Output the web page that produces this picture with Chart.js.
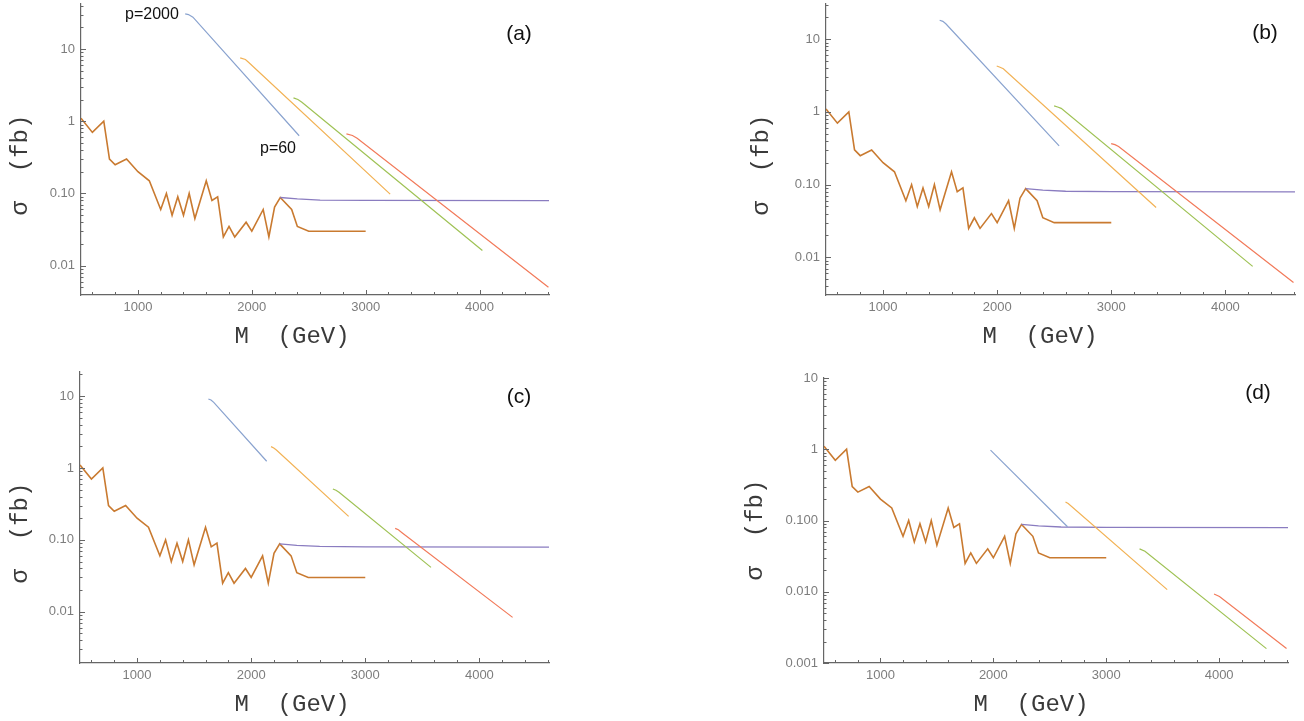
<!DOCTYPE html>
<html>
<head>
<meta charset="utf-8">
<script src="https://cdn.jsdelivr.net/npm/chart.js@4.4.1/dist/chart.umd.min.js"></script>
<style>
  body { margin: 0; background: #fff; width: 1304px; height: 721px; position: relative; overflow: hidden;
         font-family: "Liberation Sans", Arial, sans-serif; }
  canvas { position: absolute; }
  .lbl { position: absolute; white-space: pre; transform: translate(-50%, -50%); line-height: 1; }
  .axt { font-family: "Liberation Mono", "Courier New", monospace; font-size: 24px; color: #3a3a3a; }
  .ytl { transform: translate(-50%, -50%) rotate(-90deg); }
  .tag { font-size: 21px; color: #111; }
  .pl  { font-size: 16px; color: #111; }
</style>
</head>
<body>
<canvas id="pa"></canvas>
<canvas id="pb"></canvas>
<canvas id="pc"></canvas>
<canvas id="pd"></canvas>

<div class="lbl axt" style="left:292px;top:337px">M  (GeV)</div>
<div class="lbl axt" style="left:1040px;top:337px">M  (GeV)</div>
<div class="lbl axt" style="left:292px;top:705px">M  (GeV)</div>
<div class="lbl axt" style="left:1031px;top:705px">M  (GeV)</div>
<div class="lbl axt ytl" style="left:21px;top:165px">σ  (fb)</div>
<div class="lbl axt ytl" style="left:762px;top:165px">σ  (fb)</div>
<div class="lbl axt ytl" style="left:21px;top:533px">σ  (fb)</div>
<div class="lbl axt ytl" style="left:756px;top:530px">σ  (fb)</div>
<div class="lbl tag" style="left:519px;top:32px">(a)</div>
<div class="lbl tag" style="left:1265px;top:31px">(b)</div>
<div class="lbl tag" style="left:519px;top:395px">(c)</div>
<div class="lbl tag" style="left:1258px;top:391px">(d)</div>
<div class="lbl pl" style="left:152px;top:14px">p=2000</div>
<div class="lbl pl" style="left:278px;top:148px">p=60</div>

<script>
// observed limit (orange zigzag), same in all four panels
const massPoints = [500, 600, 700, 750, 800, 900, 1000, 1100, 1200, 1250, 1300, 1350, 1400, 1450, 1500,
                    1600, 1650, 1700, 1750, 1800, 1850, 1950, 2000, 2100, 2150, 2200, 2250, 2350, 2400, 2500, 3000];
const limitFb    = [1.1, 0.7, 1.0, 0.3, 0.25, 0.3, 0.2, 0.15, 0.06, 0.1, 0.05, 0.09, 0.05, 0.1, 0.045,
                    0.15, 0.08, 0.09, 0.025, 0.035, 0.025, 0.04, 0.03, 0.06, 0.025, 0.065, 0.088, 0.06, 0.035, 0.03, 0.03];

// second limit (purple, flat)
const flatMass = [2250, 2400, 2600, 3000, 4610];
const flatFb   = [0.088, 0.084, 0.081, 0.080, 0.0795];

// model curves [M, sigma] per panel
const aBlue   = [[1415, 30.7], [1444, 30.0], [1483, 27.6], [2416, 0.63]];
const aYellow = [[1898, 7.55], [1944, 7.15], [1971, 6.56], [3215, 0.098]];
const aGreen  = [[2366, 2.11], [2405, 2.0], [2440, 1.83], [4025, 0.0162]];
const aRed    = [[2831, 0.669], [2884, 0.634], [2925, 0.581], [4605, 0.00502]];

const bBlue   = [[1496, 18.2], [1524, 17.6], [1550, 16.3], [2543, 0.341]];
const bYellow = [[1996, 4.28], [2025, 4.12], [2054, 3.93], [3393, 0.0485]];
const bGreen  = [[2499, 1.21], [2530, 1.17], [2561, 1.12], [4239, 0.0075]];
const bRed    = [[2999, 0.367], [3032, 0.355], [3064, 0.334], [4597, 0.0045]];

const cBlue   = [[1625, 9.12], [1648, 8.8], [1672, 8.17], [2136, 1.24]];
const cYellow = [[2174, 1.98], [2198, 1.9], [2221, 1.78], [2854, 0.212]];
const cGreen  = [[2716, 0.51], [2743, 0.49], [2770, 0.458], [3576, 0.0415]];
const cRed    = [[3262, 0.1445], [3290, 0.138], [3319, 0.127], [4291, 0.00836]];

const dBlue   = [[1975, 0.97], [2657, 0.0817]];
const dYellow = [[2639, 0.182], [2663, 0.173], [3540, 0.0107]];
const dGreen  = [[3295, 0.040], [3343, 0.037], [4419, 0.00159]];
const dRed    = [[3955, 0.0093], [4003, 0.0086], [4597, 0.0016]];

// tick labels
const xTickLabels  = [1000, 2000, 3000, 4000];
const yLabelsABC   = ['10', '1', '0.10', '0.01'];
const yLabelsD     = ['10', '1', '0.100', '0.010', '0.001'];

const curveColors = ['#8aa3cf', '#f2b255', '#9fc255', '#f27a5a'];
const zigColor  = '#c97a30';
const flatColor = '#8a7cc0';
const axisColor = '#666';
const tickColor = '#7d7d7d';

const W_Y = 75, H_X = 30, PAD = 10;

const panels = [
  { id: 'pa', left: 81,  top: 4,   right: 549,  bottom: 295, yMin: 0.00393, yMax: 42,   labels: yLabelsABC, curves: [aBlue, aYellow, aGreen, aRed] },
  { id: 'pb', left: 826, top: 4,   right: 1295, bottom: 295, yMin: 0.00303, yMax: 30.5, labels: yLabelsABC, curves: [bBlue, bYellow, bGreen, bRed] },
  { id: 'pc', left: 80,  top: 372, right: 549,  bottom: 663, yMin: 0.00194, yMax: 21.6, labels: yLabelsABC, curves: [cBlue, cYellow, cGreen, cRed] },
  { id: 'pd', left: 824, top: 378, right: 1288, bottom: 663, yMin: 0.001,   yMax: 10,   labels: yLabelsD,   curves: [dBlue, dYellow, dGreen, dRed] },
];

// Mathematica-style inward ticks
const innerTicks = {
  id: 'innerTicks',
  afterDraw(chart) {
    const { ctx, chartArea: a, scales: { x, y } } = chart;
    ctx.save();
    ctx.strokeStyle = axisColor;
    ctx.lineWidth = 1;
    for (let m = 600; m <= 4600; m += 200) {
      const px = Math.round(x.getPixelForValue(m)) + 0.5;
      const len = m % 1000 === 0 ? 5 : 3;
      ctx.beginPath(); ctx.moveTo(px, a.bottom); ctx.lineTo(px, a.bottom - len); ctx.stroke();
    }
    for (let e = -3; e <= 1; e++) {
      for (let k = 1; k <= 9; k++) {
        const v = k * Math.pow(10, e);
        if (v < y.min * 0.999 || v > y.max * 1.001) continue;
        const py = Math.round(y.getPixelForValue(v)) + 0.5;
        const len = k === 1 ? 5 : 2.5;
        ctx.beginPath(); ctx.moveTo(a.left, py); ctx.lineTo(a.left + len, py); ctx.stroke();
      }
    }
    ctx.restore();
  }
};

const toXY = pts => pts.map(([m, s]) => ({ x: m, y: s }));

panels.forEach(p => {
  const canvas = document.getElementById(p.id);
  const w = (p.right - p.left) + W_Y + PAD;
  const h = (p.bottom - p.top) + PAD + H_X;
  canvas.width = w;
  canvas.height = h;
  canvas.style.left = (p.left - W_Y) + 'px';
  canvas.style.top = (p.top - PAD) + 'px';

  const datasets = p.curves.map((c, i) => ({
    data: toXY(c), borderColor: curveColors[i], borderWidth: 1.2, pointRadius: 0, tension: 0
  }));
  datasets.push({
    data: flatMass.map((m, i) => ({ x: m, y: flatFb[i] })),
    borderColor: flatColor, borderWidth: 1.3, pointRadius: 0
  });
  datasets.push({
    data: massPoints.map((m, i) => ({ x: m, y: limitFb[i] })),
    borderColor: zigColor, borderWidth: 1.6, pointRadius: 0
  });

  new Chart(canvas, {
    type: 'line',
    data: { datasets },
    options: {
      responsive: false,
      animation: false,
      devicePixelRatio: 1,
      layout: { padding: { left: 0, top: PAD, right: PAD, bottom: 0 } },
      plugins: { legend: { display: false }, tooltip: { enabled: false } },
      scales: {
        x: {
          type: 'linear', min: 500, max: 4610,
          afterBuildTicks: s => { s.ticks = xTickLabels.map(v => ({ value: v })); },
          afterFit: s => { s.height = H_X; s.paddingLeft = 0; s.paddingRight = 0; },
          ticks: { color: tickColor, font: { family: 'Liberation Sans', size: 13 }, padding: 5,
                   maxRotation: 0, autoSkip: false, callback: v => String(v) },
          grid: { drawOnChartArea: false, drawTicks: false },
          border: { color: axisColor, width: 1.2 }
        },
        y: {
          type: 'logarithmic', min: p.yMin, max: p.yMax,
          afterBuildTicks: s => { s.ticks = p.labels.map(l => ({ value: +l })); },
          afterFit: s => { s.width = W_Y; s.paddingTop = 0; s.paddingBottom = 0; },
          ticks: { color: tickColor, font: { family: 'Liberation Sans', size: 13 }, padding: 6,
                   autoSkip: false, callback: v => p.labels.find(l => +l === v) },
          grid: { drawOnChartArea: false, drawTicks: false },
          border: { color: axisColor, width: 1.2 }
        }
      }
    },
    plugins: [innerTicks]
  });
});
</script>
</body>
</html>
